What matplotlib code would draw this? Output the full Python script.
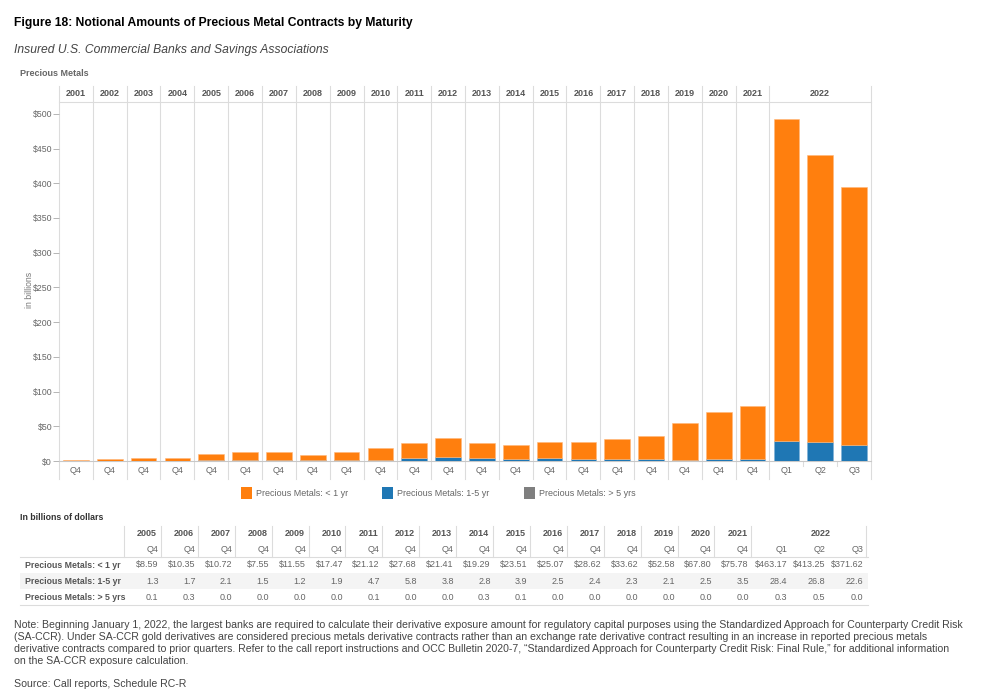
import matplotlib
matplotlib.use("Agg")
import matplotlib.pyplot as plt
from matplotlib.patches import Rectangle
from matplotlib.lines import Line2D
import numpy as np

plt.rcParams['font.family'] = ['Liberation Sans', 'DejaVu Sans']

# ---------------- data ----------------
years = [str(y) for y in range(2001, 2023)]
period_year = [str(y) for y in range(2001, 2022)] + ['2022', '2022', '2022']
quarters = ['Q4'] * 21 + ['Q1', 'Q2', 'Q3']
lt1yr = [1.8, 2.6, 3.5, 3.6, 8.59, 10.35, 10.72, 7.55, 11.55, 17.47, 21.12, 27.68,
         21.41, 19.29, 23.51, 25.07, 28.62, 33.62, 52.58, 67.80, 75.78,
         463.17, 413.25, 371.62]
yr1to5 = [0.2, 0.3, 0.4, 0.4, 1.3, 1.7, 2.1, 1.5, 1.2, 1.9, 4.7, 5.8,
          3.8, 2.8, 3.9, 2.5, 2.4, 2.3, 2.1, 2.5, 3.5,
          28.4, 26.8, 22.6]
gt5yr = [0.0, 0.0, 0.0, 0.0, 0.1, 0.3, 0.0, 0.0, 0.0, 0.0, 0.1, 0.0,
         0.0, 0.3, 0.1, 0.0, 0.0, 0.0, 0.0, 0.0, 0.0,
         0.3, 0.5, 0.0]
series_names = ['Precious Metals: < 1 yr', 'Precious Metals: 1-5 yr', 'Precious Metals: > 5 yrs']
table_start = 4  # table shows 2005 onwards
yticks = list(range(0, 501, 50))

ORANGE = '#FF7F0E'
BLUE = '#1F77B4'
GRAY = '#7F7F7F'
GRID = '#dcdcdc'
TXT = '#666666'
HDR = '#555555'

W, H = 990, 694
fig = plt.figure(figsize=(W / 100, H / 100), dpi=100)


def fx(px):
    return px / W


def fy(py):
    return 1 - py / H


# ---------------- titles ----------------
fig.text(fx(14), fy(23), 'Figure 18: Notional Amounts of Precious Metal Contracts by Maturity',
         fontsize=8.7, fontweight='bold', color='black', va='center', ha='left')
fig.text(fx(14), fy(50), 'Insured U.S. Commercial Banks and Savings Associations',
         fontsize=8.7, style='italic', color='#444444', va='center', ha='left')
fig.text(fx(20), fy(74), 'Precious Metals', fontsize=6.5, fontweight='bold', color=TXT,
         va='center', ha='left')

# ---------------- chart ----------------
L, R, T, B = 59, 871, 102, 461
ax = fig.add_axes([fx(L), fy(B), fx(R - L), (B - T) / H])
x = np.arange(len(quarters))
n = len(quarters)
bw = 0.76
ax.bar(x, yr1to5, width=bw, color=BLUE, edgecolor='#7fb0d6', linewidth=0.4, zorder=3)
b2 = np.array(yr1to5)
ax.bar(x, gt5yr, width=bw, bottom=b2, color=GRAY, linewidth=0, zorder=3)
b3 = b2 + np.array(gt5yr)
ax.bar(x, lt1yr, width=bw, bottom=b3, color=ORANGE, edgecolor='#ffb87a', linewidth=0.4, zorder=3)

ax.set_xlim(-0.5, n - 0.5)
ax.set_ylim(0, 517)
for s in ['left', 'right']:
    ax.spines[s].set_visible(False)
ax.spines['top'].set_color(GRID)
ax.spines['top'].set_linewidth(0.8)
ax.spines['bottom'].set_color('#c8c8c8')
ax.spines['bottom'].set_linewidth(0.8)

ax.set_yticks(yticks)
ax.set_yticklabels(['$%d' % v for v in yticks])
ax.tick_params(axis='y', length=4, width=0.6, color='#aaaaaa', labelsize=6.3,
               labelcolor=TXT, pad=1)
ax.set_xticks(x)
ax.set_xticklabels(quarters)
ax.tick_params(axis='x', length=0, labelsize=6.5, labelcolor=TXT, pad=3.5)

trans = ax.get_xaxis_transform()
hdr_top = (B - 86) / (B - T)
lab_bot = (B - 479) / (B - T)
# year boundaries
bounds = []
prev = None
for i, yname in enumerate(period_year):
    if yname != prev:
        bounds.append(i - 0.5)
        prev = yname
bounds.append(n - 0.5)
for bx in bounds:
    ax.add_line(Line2D([bx, bx], [lab_bot, hdr_top], transform=trans, color=GRID,
                       lw=0.8, clip_on=False, zorder=1))
# quarter separators within 2022 label row
for i in range(1, n):
    if period_year[i] == period_year[i - 1]:
        ax.add_line(Line2D([i - 0.5, i - 0.5], [0, -5 / (B - T)], transform=trans,
                           color=GRID, lw=0.8, clip_on=False))
# year header labels
hdr_y = (B - 94) / (B - T)
for yname in years:
    idx = [i for i, p in enumerate(period_year) if p == yname]
    cx = (idx[0] + idx[-1]) / 2
    ax.text(cx, hdr_y, yname, transform=trans, ha='center', va='center',
            fontsize=6.5, fontweight='bold', color=HDR)

fig.text(fx(30), fy(290), 'in billions', rotation=90, fontsize=6.2, color='#777777',
         ha='center', va='center')

# ---------------- legend ----------------
leg_x = [241, 382, 524]
leg_c = [ORANGE, BLUE, GRAY]
for lx, c, name in zip(leg_x, leg_c, series_names):
    fig.patches.append(Rectangle((fx(lx), fy(499)), 11 / W, 12 / H, transform=fig.transFigure,
                                 facecolor=c, edgecolor='none'))
    fig.text(fx(lx + 15), fy(493), name, fontsize=6.5, color=TXT, ha='left', va='center')

# ---------------- table ----------------
fig.text(fx(20), fy(517), 'In billions of dollars', fontsize=6.3, fontweight='bold',
         color='#333333', ha='left', va='center')
tperiods = period_year[table_start:]
tq = quarters[table_start:]
rows = [lt1yr[table_start:], yr1to5[table_start:], gt5yr[table_start:]]
nc = len(tperiods)
# column right edges
edges = []
left0 = 124.1
cur = left0
for i in range(nc):
    wcol = 38.2 if tperiods[i] == '2022' else 36.9
    cur += wcol
    edges.append(cur)
lefts = [left0] + edges[:-1]
tab_right = edges[-1] + 2

# shaded band for second row
fig.patches.append(Rectangle((fx(20), fy(589)), (tab_right - 20) / W, 16 / H,
                             transform=fig.transFigure, facecolor='#f4f4f4', edgecolor='none',
                             zorder=0))
fig.add_artist(Line2D([fx(20), fx(tab_right)], [fy(557), fy(557)], color=GRID, lw=0.8))
fig.add_artist(Line2D([fx(20), fx(tab_right)], [fy(605), fy(605)], color=GRID, lw=0.8))
# header vertical lines
vb = []
prev = None
for i, p in enumerate(tperiods):
    if p != prev:
        vb.append(lefts[i])
        prev = p
vb.append(edges[-1])
for vx in vb:
    fig.add_artist(Line2D([fx(vx), fx(vx)], [fy(526), fy(557)], color=GRID, lw=0.8))

TFS = 6.5
# year header text
for yname in dict.fromkeys(tperiods):
    idx = [i for i, p in enumerate(tperiods) if p == yname]
    if len(idx) == 1:
        fig.text(fx(edges[idx[0]] - 4), fy(534), yname, fontsize=TFS, fontweight='bold',
                 color=HDR, ha='right', va='center')
    else:
        cxp = (lefts[idx[0]] + edges[idx[-1]]) / 2 + 12
        fig.text(fx(cxp), fy(534), yname, fontsize=TFS, fontweight='bold',
                 color=HDR, ha='center', va='center')
for i, q in enumerate(tq):
    fig.text(fx(edges[i] - 2.5), fy(550), q, fontsize=TFS, color=TXT, ha='right', va='center')

row_y = [565, 581, 597]
for r, (name, vals, ry) in enumerate(zip(series_names, rows, row_y)):
    fig.text(fx(25), fy(ry), name, fontsize=6.3, fontweight='bold', color=HDR,
             ha='left', va='center')
    for i, v in enumerate(vals):
        s = ('$%.2f' % v) if r == 0 else ('%.1f' % v)
        fig.text(fx(edges[i] - 2.5), fy(ry), s, fontsize=TFS, color=TXT,
                 ha='right', va='center')

# ---------------- note ----------------
note_lines = [
    'Note: Beginning January 1, 2022, the largest banks are required to calculate their derivative exposure amount for regulatory capital purposes using the Standardized Approach for Counterparty Credit Risk',
    '(SA-CCR). Under SA-CCR gold derivatives are considered precious metals derivative contracts rather than an exchange rate derivative contract resulting in an increase in reported precious metals',
    'derivative contracts compared to prior quarters. Refer to the call report instructions and OCC Bulletin 2020-7, \u201cStandardized Approach for Counterparty Credit Risk: Final Rule,\u201d for additional information',
    'on the SA-CCR exposure calculation.',
]
note_y = [625, 637, 649, 661]
note_fam = ['Liberation Sans', 'DejaVu Sans']
# fit font size to the measured line width of the first line
probe = fig.text(0, 0, note_lines[0], fontsize=10, family=note_fam)
fig.canvas.draw()
wpx = probe.get_window_extent(renderer=fig.canvas.get_renderer()).width
probe.remove()
nfs = 10 * 952 / wpx
for line, ly in zip(note_lines, note_y):
    fig.text(fx(14), fy(ly), line, fontsize=nfs, family=note_fam, color='#444444',
             ha='left', va='center')
fig.text(fx(14), fy(684), 'Source: Call reports, Schedule RC-R', fontsize=nfs, family=note_fam,
         color='#444444', ha='left', va='center')

fig.savefig('out.png', dpi=100)
